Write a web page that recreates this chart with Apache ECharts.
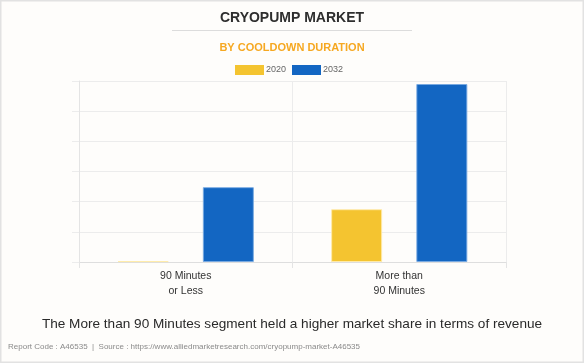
<!DOCTYPE html>
<html>
<head>
<meta charset="utf-8">
<script src="https://cdn.jsdelivr.net/npm/echarts@6/dist/echarts.min.js"></script>
<style>
html,body{margin:0;padding:0;background:#fefdfb;}
#c{width:584px;height:363px;}
</style>
</head>
<body>
<div id="c"></div>
<script>
const categories = ['90 Minutes\nor Less', 'More than\n90 Minutes'];
const seriesNames = ['2020', '2032'];
const values2020 = [3, 175];
const values2032 = [248, 590];
const colors = ['#f4c430', '#1366c2'];

const chart = echarts.init(document.getElementById('c'), null, {renderer: 'canvas'});
const ff = '"Liberation Sans", Arial, sans-serif';
chart.setOption({
  backgroundColor: '#fefdfb',
  animation: false,
  textStyle: {fontFamily: ff},
  legend: {
    top: 60, left: 230, itemWidth: 29, itemHeight: 10, itemGap: 6,
    icon: 'rect',
    itemStyle: {borderWidth: 0},
    textStyle: {fontSize: 9, color: '#666', fontFamily: ff, padding: [0, 0, 0, -3]},
    data: seriesNames
  },
  grid: {left: 79, right: 78, top: 81, bottom: 101, containLabel: false},
  xAxis: {
    type: 'category', data: categories,
    axisLine: {lineStyle: {color: '#dedede'}},
    axisTick: {show: true, length: 6, lineStyle: {color: '#e4e4e4'}},
    splitLine: {show: true, lineStyle: {color: '#ececec'}},
    axisLabel: {color: '#333', fontSize: 10.5, lineHeight: 15, margin: 7, fontFamily: ff}
  },
  yAxis: {
    type: 'value', min: 0, max: 600, interval: 100,
    axisLabel: {show: false},
    axisLine: {show: true, lineStyle: {color: '#e4e4e4'}},
    axisTick: {show: true, length: 7, lineStyle: {color: '#ececec'}},
    splitLine: {show: true, lineStyle: {color: '#ececec'}}
  },
  series: [
    {name: seriesNames[0], type: 'bar', data: values2020, barWidth: 51, barGap: '67%',
     itemStyle: {color: colors[0], borderColor: 'rgba(255,235,170,0.9)', borderWidth: 1}},
    {name: seriesNames[1], type: 'bar', data: values2032, barWidth: 51,
     itemStyle: {color: colors[1], borderColor: 'rgba(120,170,225,0.9)', borderWidth: 1}}
  ],
  graphic: [
    {type: 'rect', shape: {x: 0.5, y: 0.5, width: 583, height: 362}, style: {fill: 'none', stroke: '#e2e2e2', lineWidth: 2}, silent: true},
    {type: 'text', left: 'center', top: 11, style: {text: 'CRYOPUMP MARKET', font: 'bold 14px ' + ff, fill: '#2e2e2e'}},
    {type: 'rect', shape: {x: 172, y: 30, width: 240, height: 1}, style: {fill: '#dcdcdc'}},
    {type: 'text', left: 'center', top: 42, style: {text: 'BY COOLDOWN DURATION', font: 'bold 11px ' + ff, fill: '#f6a821'}},
    {type: 'text', left: 'center', top: 317, style: {text: 'The More than 90 Minutes segment held a higher market share in terms of revenue', font: '13.6px ' + ff, fill: '#2a2a2a'}},
    {type: 'text', left: 8, top: 343, style: {text: 'Report Code : A46535  |  Source : https://www.alliedmarketresearch.com/cryopump-market-A46535', font: '8px ' + ff, fill: '#8a8a8a'}}
  ]
});
</script>
</body>
</html>
